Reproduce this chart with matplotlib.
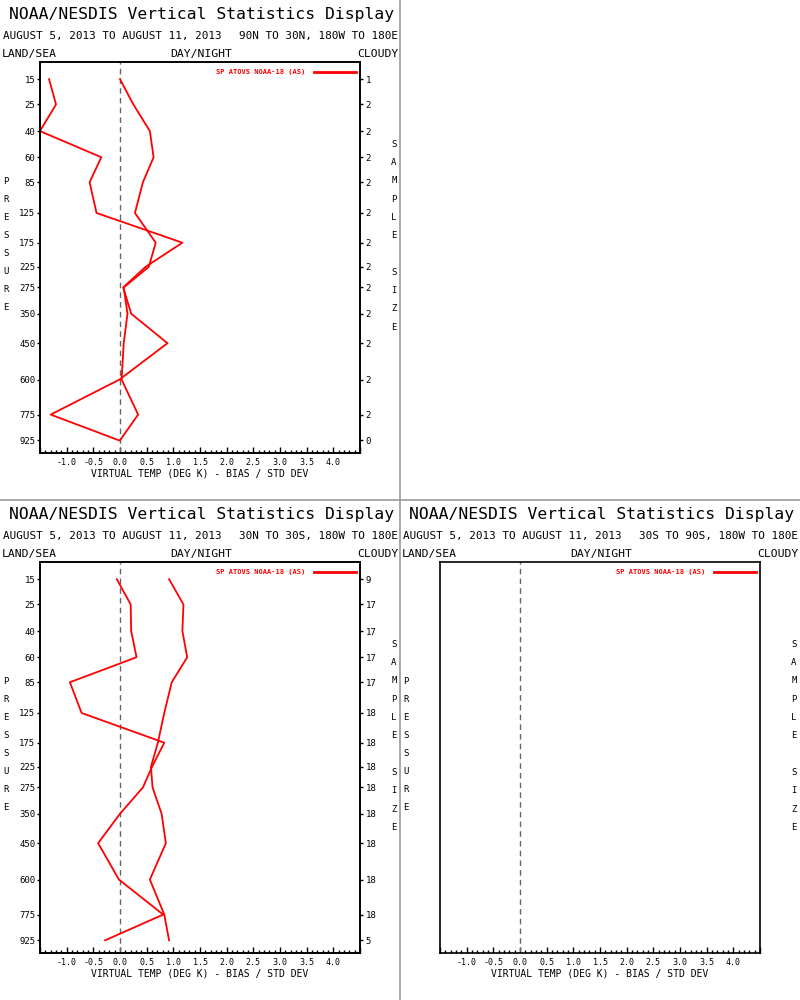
import numpy as np
import matplotlib
matplotlib.use("Agg")
import matplotlib.pyplot as plt
from matplotlib.lines import Line2D
from matplotlib.ticker import FixedLocator, MultipleLocator, NullLocator, FuncFormatter

# pressure levels (hPa)
levels = [15, 25, 40, 60, 85, 125, 175, 225, 275, 350, 450, 600, 775, 925]

# 90N to 30N
nh_bias = [-1.33, -1.20, -1.50, -0.35, -0.57, -0.44, 1.17, 0.48, 0.06, 0.21, 0.89, -0.01, -1.30, -0.02]
nh_std = [0.00, 0.25, 0.56, 0.63, 0.43, 0.28, 0.67, 0.54, 0.07, 0.14, 0.07, 0.03, 0.34, 0.00]
nh_count = [1, 2, 2, 2, 2, 2, 2, 2, 2, 2, 2, 2, 2, 0]

# 30N to 30S
tr_bias = [-0.06, 0.20, 0.21, 0.31, -0.94, -0.72, 0.83, 0.60, 0.43, 0.00, -0.41, -0.02, 0.81, -0.28]
tr_std = [0.92, 1.19, 1.17, 1.26, 0.97, 0.83, 0.71, 0.58, 0.61, 0.78, 0.86, 0.56, 0.83, 0.92]
tr_count = [9, 17, 17, 17, 17, 18, 18, 18, 18, 18, 18, 18, 18, 5]

title = "NOAA/NESDIS Vertical Statistics Display"
dates = "AUGUST 5, 2013 TO AUGUST 11, 2013"
regions = ["90N TO 30N, 180W TO 180E", "30N TO 30S, 180W TO 180E", "30S TO 90S, 180W TO 180E"]
legend_label = "SP ATOVS NOAA-18 (AS)"
xlabel = "VIRTUAL TEMP (DEG K) - BIAS / STD DEV"

plt.rcParams["font.family"] = ["DejaVu Sans Mono"]

W, H = 800, 1000
fig = plt.figure(figsize=(8, 10), dpi=100)


def fx(px):
    return px / W


def fy(py):
    return 1 - py / H


# vertical axis is linear in p**kappa
def fwd(p):
    return np.power(np.maximum(p, 1e-6), 0.286)


def inv(v):
    return np.power(np.maximum(v, 1e-6), 1 / 0.286)


def xfmt(v, pos):
    if v < -1.4 or v > 4.4:
        return ""
    return "%.1f" % (round(v, 1) + 0.0)


def panel(ox, oy, region, bias=None, std=None, counts=None):
    fig.text(fx(ox + 202), fy(oy + 15), title, ha="center", va="center", fontsize=11.8)
    fig.text(fx(ox + 3), fy(oy + 36), dates, ha="left", va="center", fontsize=7.9)
    fig.text(fx(ox + 398), fy(oy + 36), region, ha="right", va="center", fontsize=7.9)
    fig.text(fx(ox + 2), fy(oy + 54), "LAND/SEA", ha="left", va="center", fontsize=8.2)
    fig.text(fx(ox + 201), fy(oy + 54), "DAY/NIGHT", ha="center", va="center", fontsize=8.2)
    fig.text(fx(ox + 398), fy(oy + 54), "CLOUDY", ha="right", va="center", fontsize=8.2)

    for i, ch in enumerate("PRESSURE"):
        fig.text(fx(ox + 6), fy(oy + 182 + 18 * i), ch, ha="center", va="center", fontsize=6.5)
    for i, ch in enumerate("SAMPLE SIZE"):
        fig.text(fx(ox + 394), fy(oy + 144.3 + 18.3 * i), ch, ha="center", va="center", fontsize=6.5)

    ax = fig.add_axes([fx(ox + 40), fy(oy + 453), 320 / W, 391 / H])
    ax.set_yscale("function", functions=(fwd, inv))

    ax.axvline(0, color="#666666", ls=(0, (4, 3)), lw=1)
    if bias is not None:
        ax.plot(bias, levels, color="red", lw=1.3)
        ax.plot(std, levels, color="red", lw=1.3)

    ax.set_xlim(-1.5, 4.5)
    ax.set_ylim(1006, 10.1)

    ax.xaxis.set_major_locator(FixedLocator(np.arange(-1.5, 4.51, 0.5)))
    ax.xaxis.set_minor_locator(MultipleLocator(0.1))
    ax.xaxis.set_major_formatter(FuncFormatter(xfmt))
    ax.tick_params(axis="x", which="major", direction="in", length=4.5, width=1, labelsize=6, pad=3.5)
    ax.tick_params(axis="x", which="minor", direction="in", length=2.5, width=1)
    ax.set_xlabel(xlabel, fontsize=7, labelpad=1.5)

    ax.yaxis.set_minor_locator(NullLocator())
    if counts is not None:
        ax.set_yticks(levels)
        ax.set_yticklabels([str(p) for p in levels])
        ax.tick_params(axis="y", direction="out", length=2.5, width=1, labelsize=6.5, pad=1)
        ax2 = ax.twinx()
        ax2.set_yscale("function", functions=(fwd, inv))
        ax2.set_ylim(1006, 10.1)
        ax2.yaxis.set_minor_locator(NullLocator())
        ax2.set_yticks(levels)
        ax2.set_yticklabels([str(c) for c in counts])
        ax2.tick_params(axis="y", direction="out", length=2.5, width=1, labelsize=6.5, pad=1.5)
        for s in ax2.spines.values():
            s.set_linewidth(1.2)
    else:
        ax.set_yticks([])

    for s in ax.spines.values():
        s.set_linewidth(1.2)

    # legend entry
    ax.text(0.828, 0.975, legend_label, transform=ax.transAxes, ha="right", va="center",
            color="red", fontsize=5, fontweight="bold")
    ax.add_line(Line2D([0.856, 0.9875], [0.975, 0.975], transform=ax.transAxes, color="red", lw=2))
    return ax


panel(0, 0, regions[0], nh_bias, nh_std, nh_count)
panel(0, 500, regions[1], tr_bias, tr_std, tr_count)
panel(400, 500, regions[2])

# panel separators
fig.add_artist(Line2D([0.5, 0.5], [0, 1], transform=fig.transFigure, color="#999999", lw=1.2))
fig.add_artist(Line2D([0, 1], [0.5, 0.5], transform=fig.transFigure, color="#999999", lw=1.2))

fig.savefig("out.png", dpi=100)
